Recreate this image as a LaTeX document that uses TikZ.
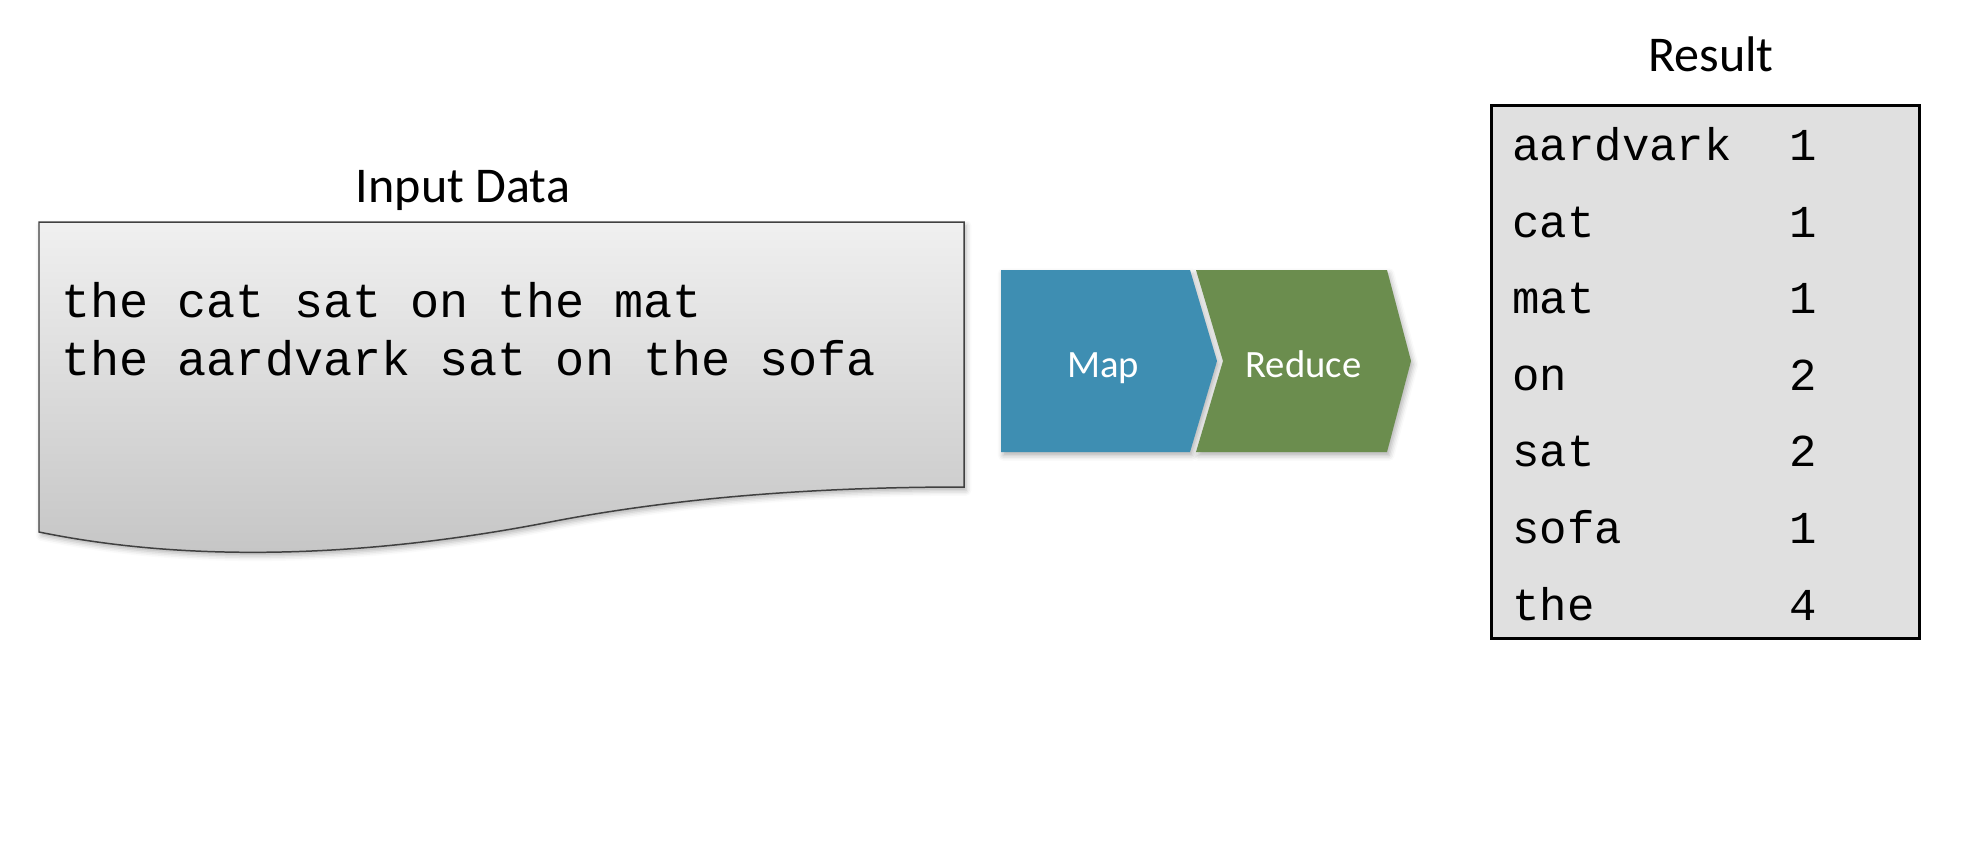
\documentclass[tikz,border=0pt]{standalone}
\usepackage{fontspec}
\setmainfont{Carlito}
\newfontfamily\codefont{Liberation Mono}
\usepackage{tikz}
\usetikzlibrary{calc,positioning,shadows.blur}

\definecolor{mapblue}{RGB}{62,142,178}
\definecolor{reducegreen}{RGB}{107,141,78}
\definecolor{resultgray}{RGB}{224,224,224}
\definecolor{docedge}{RGB}{64,64,64}

\begin{document}
\begin{tikzpicture}
  [
  x=0.02cm,y=-0.02cm,
  heading/.style={font=\fontsize{28.5}{34}\selectfont,inner sep=0pt,anchor=base},
  doctext/.style={font=\codefont\fontsize{27.6}{33}\selectfont,inner sep=0pt,anchor=base west},
  entry/.style={font=\codefont\fontsize{26}{31}\selectfont,inner sep=0pt,anchor=base west},
  tally/.style={entry,anchor=base},
  stage/.style={font=\fontsize{22}{26}\selectfont,text=white,inner sep=0pt,anchor=base},
  softshadow/.style={blur shadow={shadow xshift=1.2pt,shadow yshift=-2pt,shadow opacity=30,shadow blur radius=3pt}},
  docshape/.style={draw=docedge,line width=0.85pt,top color=black!6,bottom color=black!23,softshadow},
  resultbox/.style={draw=black,line width=1.87pt,fill=resultgray,minimum width=8.556cm,minimum height=10.656cm,inner sep=0pt}
  ]
  \useasboundingbox (0,0) rectangle (1964,856);

  % input document
  \draw[docshape] (39,222) -- (964,222) -- (964,487)
    .. controls (850,487) and (700,493) .. (550,522)
    .. controls (380,555) and (200,565) .. (39,532) -- cycle;
  \node[heading] (input title) at (463,202) {Input Data};
  \node[doctext] (line one) at (61,317) {the cat sat on the mat};
  \node[doctext] (line two) at (61,375) {the aardvark sat on the sofa};

  % map and reduce
  \fill[mapblue,softshadow] (1001,270) -- (1190,270) -- (1217,361) -- (1190,452) -- (1001,452) -- cycle;
  \fill[reducegreen,softshadow] (1196,270) -- (1387,270) -- (1411,361) -- (1387,452) -- (1196,452) -- (1223,361) -- cycle;
  \node[stage] (map) at (1103,377) {Map};
  \node[stage] (reduce) at (1303.5,377) {Reduce};

  % word counts
  \node[resultbox] (result) at (1705.5,372) {};
  \node[heading] (result title) at (1711,71.5) {Result};
  \foreach \word/\num [count=\i from 0] in {aardvark/1,cat/1,mat/1,on/2,sat/2,sofa/1,the/4}
    {
    \node[entry] (word\i) at (1512,{160.5+76.6*\i}) {\word};
    \node[tally] (num\i) at (1803,{160.5+76.6*\i}) {\num};
    }
\end{tikzpicture}
\end{document}
